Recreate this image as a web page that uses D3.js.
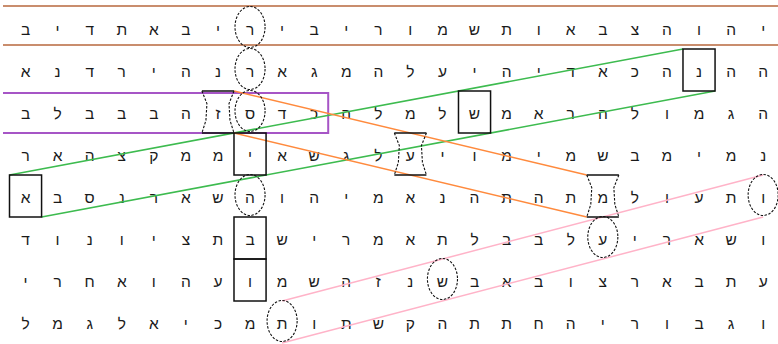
<!DOCTYPE html>
<html><head><meta charset="utf-8">
<script src="https://cdn.jsdelivr.net/npm/d3@7"></script>
<style>body{margin:0;background:#fff}svg{display:block}</style>
</head><body>
<script>
// Letter grid (left-to-right column order as displayed)
const row0 = ["ב","י","ד","ת","א","ב","י","ר","י","ב","י","ר","ו","מ","ש","ת","ו","א","ב","צ","ה","ו","ה","י"];
const row1 = ["א","נ","ד","ר","י","ה","נ","ר","א","ג","מ","ה","ל","ע","י","ה","י","ד","א","כ","ה","נ","ה","ה"];
const row2 = ["ב","ל","ב","ב","ב","ה","ז","ס","ד","כ","ה","ל","מ","ל","ש","מ","א","ר","ה","ל","ו","מ","ג","ה"];
const row3 = ["ר","א","ה","צ","ק","מ","מ","י","א","ש","ג","ל","ע","י","ו","מ","י","מ","ש","ב","מ","י","מ","נ"];
const row4 = ["א","ב","ס","נ","ר","א","ש","ה","ו","ה","י","מ","א","נ","ה","ת","ה","ת","מ","ל","ו","ע","ת","ו"];
const row5 = ["ד","ו","נ","ו","י","צ","ת","ב","ש","י","ר","מ","א","ת","ל","ב","ב","ל","ע","י","ר","א","ש","ו"];
const row6 = ["י","ר","ח","א","ו","ה","ע","ו","מ","ש","ה","ז","נ","ש","ב","א","ב","ו","צ","ר","א","ב","ת","ע"];
const row7 = ["ל","מ","ג","ל","א","י","כ","מ","ת","ו","ת","ש","ק","ה","ת","ת","ח","ה","י","ר","ו","ב","ג","ו"];
const grid = [row0,row1,row2,row3,row4,row5,row6,row7];

// Marked cells [row, col]
const circleCells = [[0,7],[1,7],[2,7],[4,7],[7,8],[6,13],[5,18],[4,23]];
const boxCells = [[4,0],[3,7],[2,14],[1,21],[5,7],[6,7]];
const hourglassCells = [[2,6],[3,12],[4,18]];

// Term connectors: first cell, last cell
const greenTerm = {first:[4,0], last:[1,21]};
const orangeTerm = {first:[2,6], last:[4,18]};
const pinkTerm = {first:[7,8], last:[4,23]};
const purpleSpan = {row:2, fromCol:0, toCol:9};

const W = 778, H = 344;
const svg = d3.select("body").append("svg").attr("width", W).attr("height", H);

const x = d3.scaleBand().domain(d3.range(24)).range([9.5, 779.2]).padding(0);
const y = d3.scaleBand().domain(d3.range(8)).range([7, 343]).padding(0);
const bw = x.bandwidth(), bh = y.bandwidth();
const cx = c => x(c) + bw/2, cy = r => y(r) + bh/2;

// letters
const cells = [];
grid.forEach((row, r) => row.forEach((ch, c) => cells.push({r, c, ch})));
svg.append("g").selectAll("text").data(cells).join("text")
  .attr("x", d => cx(d.c)).attr("y", d => cy(d.r) + 6.5)
  .attr("text-anchor", "middle")
  .attr("font-family", "'Liberation Sans', 'DejaVu Sans', sans-serif")
  .attr("font-size", 15.5).attr("fill", "#1a1a1a")
  .text(d => d.ch);

// brown row lines
const brown = "#c98d6d";
[6, 45].forEach(yy => svg.append("line").attr("x1", 3).attr("x2", W).attr("y1", yy).attr("y2", yy)
  .attr("stroke", brown).attr("stroke-width", 2));

// purple span
const purple = "#a655c6";
const pr = x(purpleSpan.toCol) + bw - 2;
svg.append("path")
  .attr("d", `M3,${y(purpleSpan.row)+2}L${pr},${y(purpleSpan.row)+2}L${pr},${y(purpleSpan.row)+bh}L3,${y(purpleSpan.row)+bh}`)
  .attr("fill", "none").attr("stroke", purple).attr("stroke-width", 2);

// connector lines
function seg(p1, p2, color) {
  svg.append("line").attr("x1", p1[0]).attr("y1", p1[1]).attr("x2", p2[0]).attr("y2", p2[1])
    .attr("stroke", color).attr("stroke-width", 1.5);
}
const green = "#3dbb4f", orange = "#ff8a3d", pink = "#ffb3c8";
{
  const [r1,c1] = greenTerm.first, [r2,c2] = greenTerm.last;
  seg([x(c1), y(r1)], [x(c2), y(r2)], green);
  seg([x(c1)+bw, y(r1)+bh], [x(c2)+bw, y(r2)+bh], green);
}
{
  const [r1,c1] = orangeTerm.first, [r2,c2] = orangeTerm.last;
  seg([x(c1)+bw, y(r1)], [x(c2), y(r2)], orange);
  seg([x(c1)+bw, y(r1)+bh], [x(c2), y(r2)+bh], orange);
}
{
  const [r1,c1] = pinkTerm.first, [r2,c2] = pinkTerm.last;
  seg([cx(c1), y(r1)], [cx(c2), y(r2)], pink);
  seg([cx(c1), y(r1)+bh], [cx(c2), y(r2)+bh], pink);
}

// boxes
svg.append("g").selectAll("rect").data(boxCells).join("rect")
  .attr("x", d => x(d[1])).attr("y", d => y(d[0]))
  .attr("width", bw).attr("height", bh)
  .attr("fill", "none").attr("stroke", "#111").attr("stroke-width", 1.5);

// circles
svg.append("g").selectAll("ellipse").data(circleCells).join("ellipse")
  .attr("cx", d => cx(d[1])).attr("cy", d => cy(d[0]) - 1)
  .attr("rx", bw/2 - 1).attr("ry", bh/2 - 0.5)
  .attr("fill", "none").attr("stroke", "#111").attr("stroke-width", 1.1).attr("stroke-dasharray", "2.5,1.5");

// hourglasses
const hg = svg.append("g");
hourglassCells.forEach(([r,c]) => {
  const x0 = x(c), x1 = x(c)+bw, y0 = y(r), y1 = y(r)+bh, ins = 5;
  hg.append("line").attr("x1", x0).attr("x2", x1).attr("y1", y0).attr("y2", y0).attr("stroke", "#111").attr("stroke-width", 1.5);
  hg.append("line").attr("x1", x0).attr("x2", x1).attr("y1", y1).attr("y2", y1).attr("stroke", "#111").attr("stroke-width", 1.5);
  const side = (xo, dir) => `M${xo},${y0}L${xo+dir*ins},${y0+bh*0.3}L${xo+dir*(ins-1)},${y0+bh*0.7}L${xo},${y1}`;
  hg.append("path").attr("d", side(x0, 1)).attr("fill", "none").attr("stroke", "#111").attr("stroke-width", 1.1).attr("stroke-dasharray", "2.5,1.5");
  hg.append("path").attr("d", side(x1, -1)).attr("fill", "none").attr("stroke", "#111").attr("stroke-width", 1.1).attr("stroke-dasharray", "2.5,1.5");
});
</script>
</body></html>
